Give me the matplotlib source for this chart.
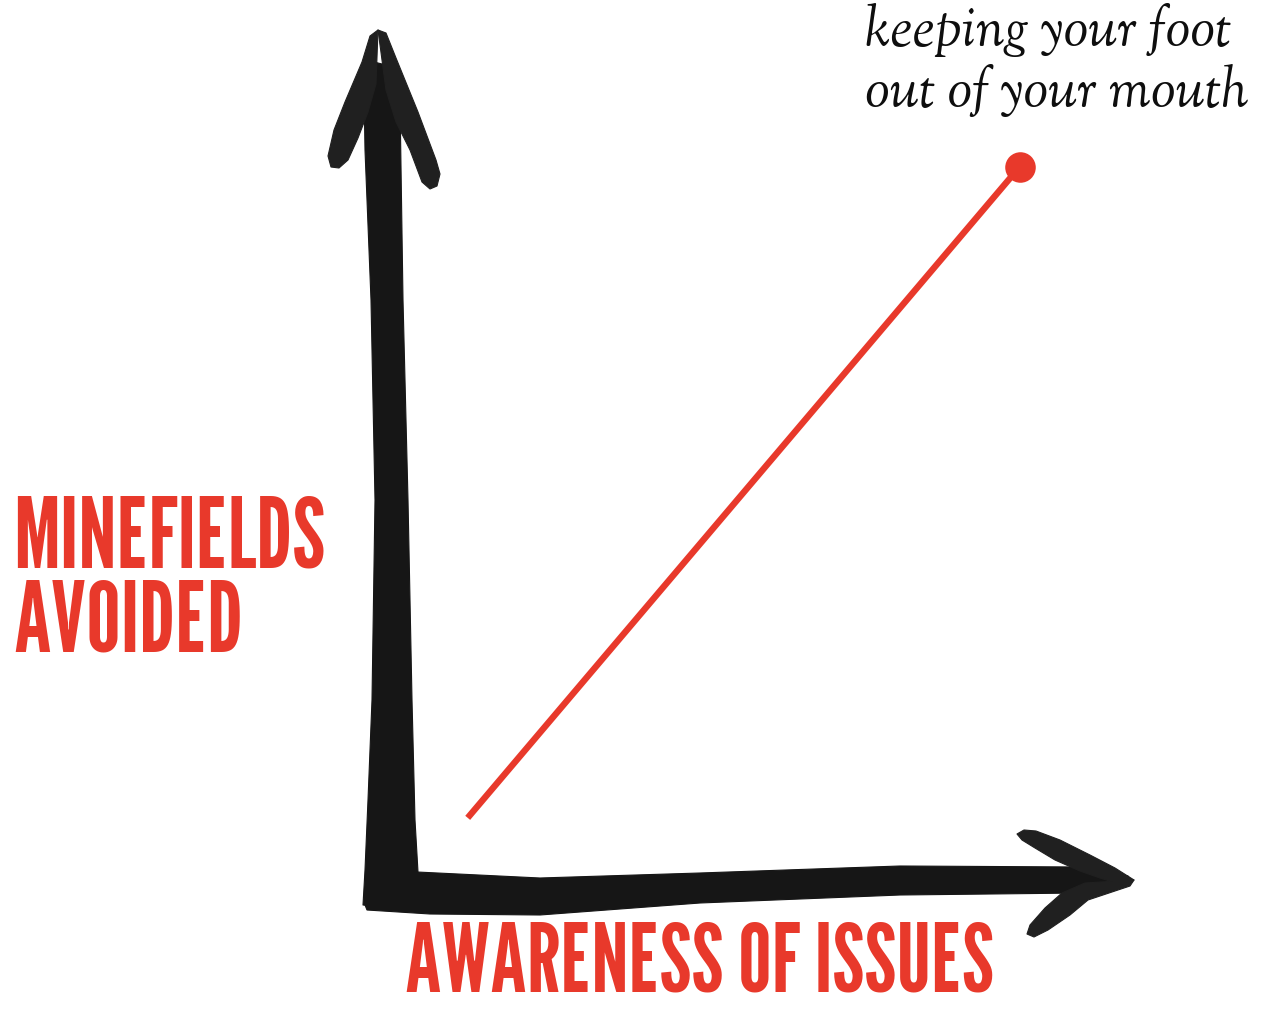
import matplotlib
matplotlib.use("Agg")
import matplotlib.pyplot as plt
from matplotlib.patches import Polygon

# ---- data ----
awareness = [0.105, 0.851]      # x: awareness of issues
minefields = [0.079, 0.845]     # y: minefields avoided
x_label = "AWARENESS OF ISSUES"
y_label_lines = ["MINEFIELDS", "AVOIDED"]
end_note = "keeping your foot\nout of your mouth"

RED = "#e8392b"
INK = "#161616"
HEAD = "#202020"

W, H = 1278, 1009
fig = plt.figure(figsize=(W / 100, H / 100), dpi=100)
fig.patch.set_facecolor("white")

# axes frame: origin at the corner of the hand-drawn axes
L, B, R, T = 390, 885, 1130, 35
ax = fig.add_axes([L / W, 1 - B / H, (R - L) / W, (B - T) / H])
ax.set_xlim(0, 1)
ax.set_ylim(0, 1)
ax.axis("off")


def px(points):
    """pixel points -> axes-fraction coordinates (for the brush-drawn axes)"""
    return [((x - L) / (R - L), (B - y) / (B - T)) for x, y in points]


def brush(points, color=INK, alpha=1.0):
    ax.add_patch(Polygon(px(points), closed=True, facecolor=color, edgecolor=color,
                         linewidth=0.8, alpha=alpha, transform=ax.transAxes,
                         clip_on=False, joinstyle="round"))


# vertical brush stroke (y axis)
brush([(363, 905), (365, 870), (368, 800), (372, 700), (375, 500), (371, 300),
       (365, 150), (364, 90), (374, 62), (390, 66), (400, 100), (403, 300),
       (408, 500), (412, 700), (415, 820), (418, 872), (417, 910)])
# horizontal brush stroke (x axis)
brush([(365, 905), (368, 878), (417, 872), (540, 878), (700, 873), (900, 866),
       (1080, 867), (1128, 876), (1132, 882), (1080, 893), (900, 895),
       (700, 903), (540, 915), (430, 914), (367, 910)])
# vertical arrowhead
brush([(378, 30), (386, 33), (396, 58), (418, 112), (436, 160), (440, 174),
       (437, 186), (430, 189), (422, 182), (410, 150), (396, 122), (386, 90)],
      color=HEAD)
brush([(378, 30), (370, 36), (362, 62), (345, 102), (334, 130), (328, 156),
       (331, 167), (339, 168), (348, 160), (358, 138), (368, 112), (376, 84)],
      color=HEAD)
# horizontal arrowhead
brush([(1134, 880), (1126, 886), (1100, 878), (1080, 871), (1055, 860),
       (1035, 848), (1022, 840), (1017, 834), (1024, 830), (1036, 831),
       (1060, 840), (1090, 855), (1115, 868)], color=HEAD)
brush([(1134, 880), (1130, 886), (1112, 892), (1088, 900), (1070, 915),
       (1048, 930), (1034, 937), (1027, 934), (1030, 925), (1045, 908),
       (1062, 893), (1085, 883)], color=HEAD)

# red line with end dot
ax.plot(awareness, minefields, color=RED, linewidth=4.6, solid_capstyle="butt",
        zorder=5, clip_on=False)
ax.plot(awareness[-1:], minefields[-1:], "o", color=RED, markersize=22,
        markeredgewidth=0, zorder=6, clip_on=False)

# labels
gothic = ["League Gothic", "DejaVu Sans"]
fig.text(13 / W, 1 - 567 / H, y_label_lines[0], family=gothic, fontsize=70,
         color=RED, ha="left", va="baseline")
fig.text(13 / W, 1 - 652 / H, y_label_lines[1], family=gothic, fontsize=70,
         color=RED, ha="left", va="baseline")
fig.text(405 / W, 1 - 992 / H, x_label, family=gothic, fontsize=68,
         color=RED, ha="left", va="baseline")

serif = ["OFL Sorts Mill Goudy TT", "DejaVu Serif"]
for i, line in enumerate(end_note.split("\n")):
    fig.text(865 / W, 1 - (46 + 61 * i) / H, line, family=serif, style="italic",
             fontsize=40, color="#0e0e0e", ha="left", va="baseline")

fig.savefig("out.png", dpi=100, facecolor="white")
